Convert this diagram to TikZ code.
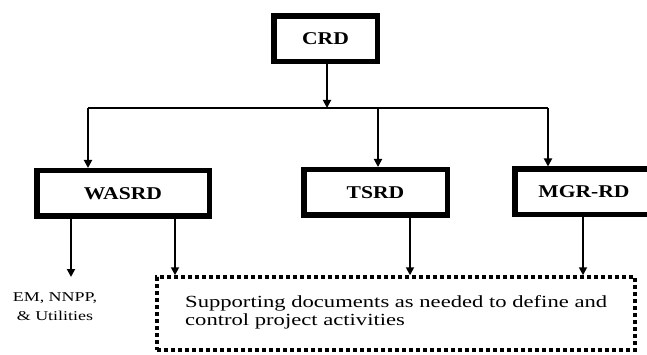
\documentclass[tikz,border=0pt]{standalone}
\usepackage{fontspec}
\setmainfont{Liberation Serif}
\newfontfamily\labfont[FakeStretch=1.2]{Liberation Serif}
\newfontfamily\docfont[FakeStretch=1.33]{Liberation Serif}
\usetikzlibrary{arrows.meta}
\begin{document}
\begin{tikzpicture}[x=1pt,y=-1pt,
  unitbox/.style={draw=black,line width=5.5pt,fill=white,inner sep=0pt,
    font=\labfont\bfseries\fontsize{18}{20}\selectfont,minimum height=45.5pt},
  conn/.style={line width=1.8pt},
  arr/.style={line width=1.8pt,-{Triangle[length=8pt,width=8pt]}},
  dotbox/.style={draw=black,line width=3.5pt,dash pattern=on 4pt off 3pt,inner sep=0pt}]
\useasboundingbox (0,0) rectangle (647,355);
\clip (0,0) rectangle (647,355);
\fill[white] (0,0) rectangle (647,355);

\node[unitbox,minimum width=103.5pt] (crd) at (325.5,39) {CRD};
\node[unitbox,minimum width=172.5pt] (wasrd) at (123,193.5) {WASRD};
\node[unitbox,minimum width=143.5pt] (tsrd) at (375.5,192.5) {TSRD};
\node[unitbox,minimum width=138.5pt] (mgr) at (584,192) {MGR-RD};

\node[dotbox,minimum width=478pt,minimum height=73pt] (doc) at (396,313.5) {};
\node[anchor=base west,inner sep=0pt,align=left,
  font=\docfont\fontsize{17}{18}\selectfont] (doctext) at (185,325)
  {Supporting documents as needed to define and\\control project activities};
\node[anchor=base,inner sep=0pt,align=center,
  font=\docfont\fontsize{13.5}{19}\selectfont] (em) at (55,320)
  {EM, NNPP,\\\& Utilities};

\coordinate (jc) at (327,108);
\coordinate (j1) at (88,108);
\coordinate (j2) at (378,108);
\coordinate (j3) at (548,108);
\coordinate (emtip) at (71,277);
\coordinate (x1) at (175,0);
\coordinate (x2) at (410,0);
\coordinate (x3) at (583,0);

\draw[arr] (crd.south -| jc) -- (jc);
\draw[conn] (j1) -- (j3);
\draw[arr] (j1) -- (wasrd.north -| j1);
\draw[arr] (j2) -- (tsrd.north -| j2);
\draw[arr] (j3) -- (mgr.north -| j3);

\draw[arr] (wasrd.south -| emtip) -- (emtip);
\draw[arr] (wasrd.south -| x1) -- (doc.north -| x1);
\draw[arr] (tsrd.south -| x2) -- (doc.north -| x2);
\draw[arr] (mgr.south -| x3) -- (doc.north -| x3);
\end{tikzpicture}
\end{document}
